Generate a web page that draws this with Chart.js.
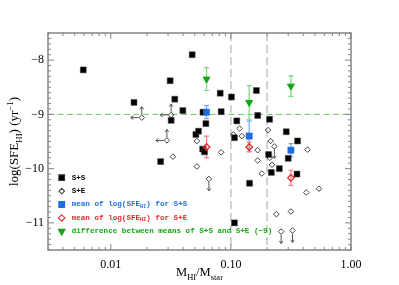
<!DOCTYPE html>
<html>
<head>
<meta charset="utf-8">
<script src="https://cdn.jsdelivr.net/npm/chart.js@4.4.0/dist/chart.umd.min.js"></script>
<style>
  html, body { margin: 0; padding: 0; background: #fff; }
  canvas { display: block; }
</style>
</head>
<body>
<canvas id="chart" width="399" height="285"></canvas>
<script>
// S+S pairs
const ssX = [0.0059, 0.0156, 0.0312, 0.0341, 0.0318, 0.0398, 0.0476, 0.0511, 0.0537, 0.0585, 0.0619,
  0.0582, 0.0603, 0.026, 0.0815, 0.083, 0.101, 0.112, 0.107, 0.107, 0.143, 0.163, 0.167, 0.21,
  0.206, 0.217, 0.253, 0.289, 0.300, 0.359, 0.355];
const ssY = [-8.18, -8.78, -8.38, -8.72, -9.11, -8.93, -7.90, -9.37, -9.31, -8.96, -9.17,
  -9.64, -9.69, -9.87, -8.61, -8.95, -8.68, -9.12, -9.43, -11.0, -10.27, -8.56, -9.02, -9.09,
  -9.74, -10.07, -10.0, -9.32, -9.81, -9.49, -10.10];

// S+E pairs
const seX = [0.0329, 0.0521, 0.0521, 0.083, 0.118, 0.105, 0.1235, 0.2035, 0.214, 0.167, 0.167,
  0.181, 0.211, 0.220, 0.435, 0.424, 0.541, 0.239, 0.316];
const seY = [-9.78, -9.49, -9.96, -9.70, -9.26, -9.37, -9.40, -9.29, -9.49, -9.66, -9.85,
  -10.09, -9.80, -9.93, -9.65, -10.44, -10.37, -10.84, -10.79];

// S+E limits
const limX = [0.0181, 0.0318, 0.0293, 0.0656, 0.230, 0.262, 0.326];
const limY = [-9.06, -9.01, -9.48, -10.19, -9.59, -11.16, -11.14];
const limDir = ['upleft', 'upleft', 'upleft', 'down', 'down', 'down', 'down'];

// binned means
const meanX = [0.0627, 0.142, 0.316];
const ssMean = [-8.96, -9.40, -9.66];
const ssErr = [0.12, 0.28, 0.12];
const seMean = [-9.60, -9.60, -10.17];
const seErr = [0.20, 0.09, 0.14];
const diffMean = [-8.35, -8.78, -8.48];
const diffErr = [0.21, 0.31, 0.19];

const refX = [0.1, 0.2];
const refY = -9;
const xTicks = [0.01, 0.1, 1];
const yTicks = [-11, -10, -9, -8];

const BLUE = 'rgb(28,110,222)';
const RED = 'rgb(228,40,40)';
const GREEN = 'rgb(20,165,20)';
const SERIF = '"Liberation Serif", "DejaVu Serif", serif';
const MONO = '"Liberation Mono", "DejaVu Sans Mono", monospace';

const pts = (xs, ys) => xs.map((v, i) => ({ x: v, y: ys[i] }));

function richText(ctx, parts, x, y, size, family, weight, align) {
  const fontOf = k => weight + ' ' + (k ? size * 0.68 : size) + 'px ' + family;
  const widths = parts.map(([t, k]) => { ctx.font = fontOf(k); return ctx.measureText(t).width; });
  const total = widths.reduce((s, v) => s + v, 0);
  let cx = align === 'center' ? x - total / 2 : x;
  parts.forEach(([t, k], i) => {
    ctx.font = fontOf(k);
    const dy = k === 'sub' ? size * 0.3 : k === 'sup' ? -size * 0.42 : 0;
    ctx.fillText(t, cx, y + dy);
    cx += widths[i];
  });
}

function arrow(ctx, x0, y0, x1, y1) {
  const a = Math.atan2(y1 - y0, x1 - x0), h = 3.2;
  ctx.beginPath();
  ctx.moveTo(x0, y0); ctx.lineTo(x1, y1);
  ctx.moveTo(x1 - h * Math.cos(a - 0.6), y1 - h * Math.sin(a - 0.6));
  ctx.lineTo(x1, y1);
  ctx.lineTo(x1 - h * Math.cos(a + 0.6), y1 - h * Math.sin(a + 0.6));
  ctx.stroke();
}

const refLines = {
  id: 'refLines',
  beforeDatasetsDraw(chart) {
    const { ctx, chartArea: a, scales: { x, y } } = chart;
    ctx.save();
    ctx.strokeStyle = '#c4c4c4';
    ctx.lineWidth = 1.5;
    ctx.setLineDash([8, 4]);
    refX.forEach(v => {
      const px = x.getPixelForValue(v);
      ctx.beginPath(); ctx.moveTo(px, a.top); ctx.lineTo(px, a.bottom); ctx.stroke();
    });
    ctx.strokeStyle = 'rgb(100,200,100)';
    ctx.lineWidth = 1;
    ctx.setLineDash([6, 3.5]);
    const py = y.getPixelForValue(refY);
    ctx.beginPath(); ctx.moveTo(a.left, py); ctx.lineTo(a.right, py); ctx.stroke();
    ctx.setLineDash([]);

    // error bars
    const bars = [[ssMean, ssErr, 'rgb(120,170,238)'], [seMean, seErr, 'rgb(240,125,125)'],
      [diffMean, diffErr, 'rgb(125,212,125)']];
    ctx.lineWidth = 1.2;
    bars.forEach(([m, e, c]) => {
      ctx.strokeStyle = c;
      meanX.forEach((v, i) => {
        const px = x.getPixelForValue(v);
        const y0 = y.getPixelForValue(m[i] - e[i]), y1 = y.getPixelForValue(m[i] + e[i]);
        ctx.beginPath();
        ctx.moveTo(px, y0); ctx.lineTo(px, y1);
        ctx.moveTo(px - 2.5, y0); ctx.lineTo(px + 2.5, y0);
        ctx.moveTo(px - 2.5, y1); ctx.lineTo(px + 2.5, y1);
        ctx.stroke();
      });
    });
    ctx.restore();
  },
  afterDatasetsDraw(chart) {
    const { ctx, scales: { x, y } } = chart;
    ctx.save();
    ctx.strokeStyle = '#555';
    ctx.lineWidth = 1;
    limX.forEach((v, i) => {
      const px = x.getPixelForValue(v), py = y.getPixelForValue(limY[i]);
      if (limDir[i] === 'upleft') {
        arrow(ctx, px, py - 3, px, py - 11);
        arrow(ctx, px - 3, py, px - 11, py);
      } else {
        arrow(ctx, px, py + 3, px, py + 12);
      }
    });
    ctx.restore();
  },
  afterDraw(chart) {
    const { ctx, chartArea: a, scales: { x, y } } = chart;
    ctx.save();
    // frame and inward ticks
    ctx.strokeStyle = '#858585';
    ctx.lineWidth = 1.5;
    ctx.strokeRect(a.left, a.top, a.right - a.left, a.bottom - a.top);
    ctx.lineWidth = 1;
    ctx.beginPath();
    for (let e = -3; e <= 0; e++) {
      for (let k = 1; k <= 9; k++) {
        const v = k * Math.pow(10, e);
        if (v < 0.003 || v > 1) continue;
        const px = x.getPixelForValue(v), len = k === 1 ? 6 : 3;
        ctx.moveTo(px, a.bottom); ctx.lineTo(px, a.bottom - len);
        ctx.moveTo(px, a.top); ctx.lineTo(px, a.top + len);
      }
    }
    for (let i = -115; i <= -75; i++) {
      const py = y.getPixelForValue(i / 10), len = i % 10 === 0 ? 6 : 3;
      ctx.moveTo(a.left, py); ctx.lineTo(a.left + len, py);
      ctx.moveTo(a.right, py); ctx.lineTo(a.right - len, py);
    }
    ctx.stroke();

    // axis titles
    ctx.fillStyle = '#000';
    ctx.textBaseline = 'alphabetic';
    richText(ctx, [['M', ''], ['HI', 'sub'], ['/M', ''], ['star', 'sub']],
      (a.left + a.right) / 2, 276, 12.5, SERIF, 'normal', 'center');
    ctx.save();
    ctx.translate(18, (a.top + a.bottom) / 2);
    ctx.rotate(-Math.PI / 2);
    richText(ctx, [['log(SFE', ''], ['HI', 'sub'], [') (yr', ''], ['\u22121', 'sup'], [')', '']],
      0, 0, 13, SERIF, 'normal', 'center');
    ctx.restore();

    // legend
    const rows = [
      { parts: [['S+S', '']], color: '#000', style: 'rect', r: 4, fill: '#000', stroke: '#333', rot: 0 },
      { parts: [['S+E', '']], color: '#000', style: 'rectRot', r: 2.8, fill: '#fff', stroke: '#444', rot: 0 },
      { parts: [['mean of log(SFE', ''], ['HI', 'sub'], [') for S+S', '']], color: BLUE, style: 'rect', r: 4, fill: BLUE, stroke: BLUE, rot: 0 },
      { parts: [['mean of log(SFE', ''], ['HI', 'sub'], [') for S+E', '']], color: RED, style: 'rectRot', r: 3.2, fill: '#fff', stroke: RED, rot: 0 },
      { parts: [['difference between means of S+S and S+E (\u22129)', '']], color: GREEN, style: 'triangle', r: 3.8, fill: GREEN, stroke: GREEN, rot: 180 }
    ];
    ctx.textBaseline = 'middle';
    rows.forEach((row, i) => {
      const ry = a.bottom - 72.3 + i * 13.4;
      ctx.fillStyle = row.fill;
      ctx.strokeStyle = row.stroke;
      ctx.lineWidth = 1.1;
      Chart.helpers.drawPoint(ctx, { pointStyle: row.style, radius: row.r, rotation: row.rot, borderWidth: 1.1 },
        a.left + 13.7, ry);
      ctx.fillStyle = row.color;
      richText(ctx, row.parts, a.left + 23.7, ry, 7.6, MONO, 'bold', 'left');
    });
    ctx.restore();
  }
};

new Chart(document.getElementById('chart'), {
  type: 'scatter',
  data: {
    datasets: [
      { label: 'diff', data: pts(meanX, diffMean), pointStyle: 'triangle', rotation: 180, pointRadius: 4,
        backgroundColor: GREEN, borderColor: GREEN, borderWidth: 1 },
      { label: 'meanSS', data: pts(meanX, ssMean), pointStyle: 'rect', pointRadius: 4.4,
        backgroundColor: BLUE, borderColor: BLUE, borderWidth: 0.5 },
      { label: 'meanSE', data: pts(meanX, seMean), pointStyle: 'rectRot', pointRadius: 3.3,
        backgroundColor: 'rgba(255,255,255,0)', borderColor: RED, borderWidth: 1.3 },
      { label: 'S+S', data: pts(ssX, ssY), pointStyle: 'rect', pointRadius: 4.2,
        backgroundColor: '#000', borderColor: '#444', borderWidth: 0.5 },
      { label: 'S+E', data: pts(seX, seY), pointStyle: 'rectRot', pointRadius: 2.8,
        backgroundColor: 'rgba(255,255,255,0)', borderColor: '#444', borderWidth: 1 },
      { label: 'S+E limits', data: pts(limX, limY), pointStyle: 'rectRot', pointRadius: 2.8,
        backgroundColor: 'rgba(255,255,255,0)', borderColor: '#444', borderWidth: 1 }
    ]
  },
  options: {
    responsive: false,
    animation: false,
    events: [],
    layout: { padding: { top: 33, right: 48, left: 0, bottom: 0 } },
    plugins: { legend: { display: false }, tooltip: { enabled: false } },
    elements: { point: { hoverRadius: 0 } },
    scales: {
      x: {
        type: 'logarithmic', min: 0.003, max: 1,
        grid: { display: false, drawTicks: false },
        border: { display: false },
        afterBuildTicks: s => { s.ticks = xTicks.map(v => ({ value: v, major: true })); },
        afterFit: s => { s.height = 35; },
        ticks: { autoSkip: false, maxRotation: 0, padding: 8, color: '#000',
          font: { family: SERIF, size: 12 }, callback: v => Number(v).toFixed(2) }
      },
      y: {
        type: 'linear', min: -11.5, max: -7.5,
        grid: { display: false, drawTicks: false },
        border: { display: false },
        afterBuildTicks: s => { s.ticks = yTicks.map(v => ({ value: v })); },
        afterFit: s => { s.width = 48; },
        ticks: { padding: 4, color: '#000', font: { family: SERIF, size: 12 },
          callback: v => (v < 0 ? '\u2212' : '') + Math.abs(v) }
      }
    }
  },
  plugins: [refLines]
});
</script>
</body>
</html>
